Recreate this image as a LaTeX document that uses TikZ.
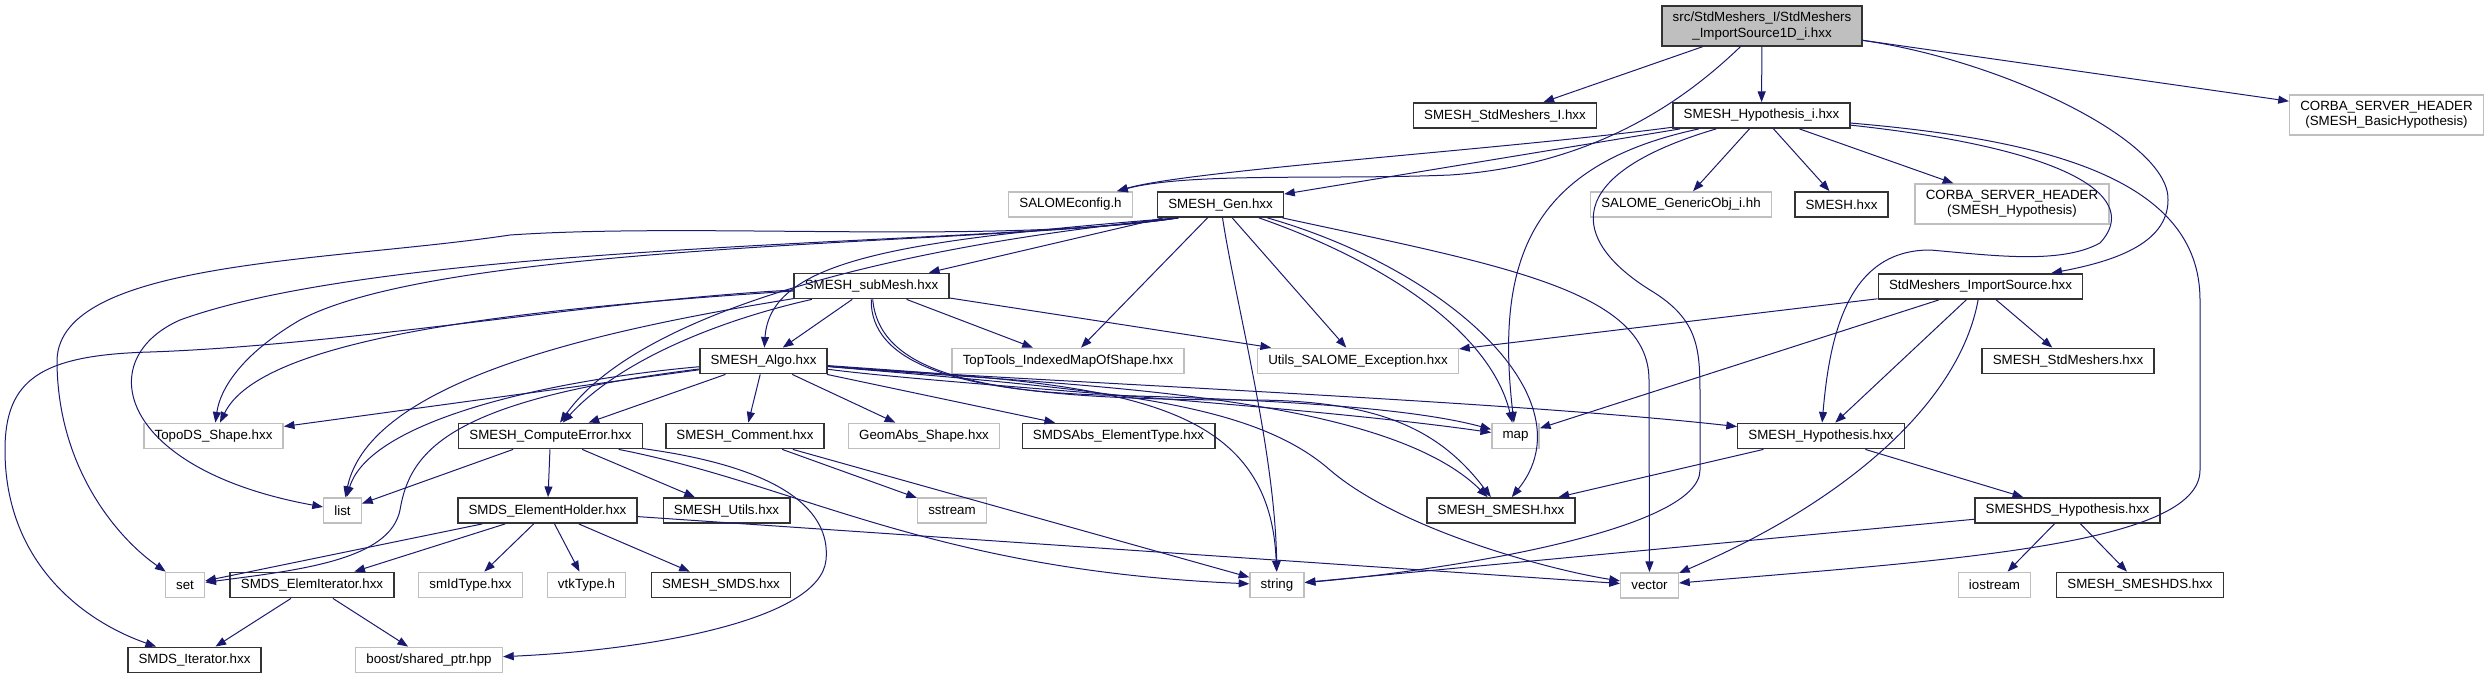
\documentclass[tikz,border=0pt]{standalone}
\usepackage{fontspec}
\setmainfont{Liberation Sans}
\usepackage{tikz}
\usetikzlibrary{arrows.meta}
\definecolor{grey75}{HTML}{BFBFBF}
\definecolor{edgeblue}{HTML}{191970}

\begin{document}
\begin{tikzpicture}[x=0.75pt,y=-0.75pt,
    hdr/.style={rectangle,draw=black!80,line width=1.1pt,inner xsep=8pt,inner ysep=0pt,
        minimum height=19pt,font=\fontsize{10}{11.5}\selectfont},
    syshdr/.style={hdr,draw=grey75},
    twoline/.style={align=center,minimum height=30pt},
    roothdr/.style={hdr,twoline,fill=grey75},
    dep/.style={draw=edgeblue,line width=0.75pt,-{Triangle[length=8pt,width=6pt]}}]
    \useasboundingbox (0,0) rectangle (2487,679);

    % Files, row by row
    \node[roothdr] (root) at (1762,26) {src/StdMeshers\_I/StdMeshers\\\_ImportSource1D\_i.hxx};

    \node[hdr] (stdi) at (1505,115.5) {SMESH\_StdMeshers\_I.hxx};
    \node[hdr] (hypi) at (1761.5,115.5) {SMESH\_Hypothesis\_i.hxx};
    \node[syshdr,twoline] (corbab) at (2386.5,115) {CORBA\_SERVER\_HEADER\\(SMESH\_BasicHypothesis)};

    \node[syshdr] (salcfg) at (1070.5,204.5) {SALOMEconfig.h};
    \node[hdr] (gen) at (1220.5,204.5) {SMESH\_Gen.hxx};
    \node[syshdr] (genobj) at (1681,204.5) {SALOME\_GenericObj\_i.hh};
    \node[hdr] (smeshh) at (1841.5,204.5) {SMESH.hxx};
    \node[syshdr,twoline] (corbah) at (2012,204) {CORBA\_SERVER\_HEADER\\(SMESH\_Hypothesis)};

    \node[hdr] (submesh) at (871.5,286) {SMESH\_subMesh.hxx};
    \node[hdr] (imps) at (1980.5,286.5) {StdMeshers\_ImportSource.hxx};

    \node[hdr] (algo) at (763.5,361) {SMESH\_Algo.hxx};
    \node[syshdr] (toptools) at (1068,361) {TopTools\_IndexedMapOfShape.hxx};
    \node[syshdr] (utils) at (1358,361) {Utils\_SALOME\_Exception.hxx};
    \node[hdr] (stdmesh) at (2068,361) {SMESH\_StdMeshers.hxx};

    \node[syshdr] (topods) at (213.5,436) {TopoDS\_Shape.hxx};
    \node[hdr] (compute) at (550.5,436) {SMESH\_ComputeError.hxx};
    \node[hdr] (comment) at (745,436) {SMESH\_Comment.hxx};
    \node[syshdr] (geomabs) at (924,436) {GeomAbs\_Shape.hxx};
    \node[hdr] (smdsabs) at (1118.5,436) {SMDSAbs\_ElementType.hxx};
    \node[syshdr] (map) at (1515.5,436) {map};
    \node[hdr] (smhyp) at (1821,436) {SMESH\_Hypothesis.hxx};

    \node[syshdr] (list) at (342.5,510.5) {list};
    \node[hdr] (holder) at (547.5,510.5) {SMDS\_ElementHolder.hxx};
    \node[hdr] (smutils) at (726.5,510.5) {SMESH\_Utils.hxx};
    \node[syshdr] (sstream) at (952,510.5) {sstream};
    \node[hdr] (smesh) at (1501,510.5) {SMESH\_SMESH.hxx};
    \node[hdr] (smhds) at (2067.5,510.5) {SMESHDS\_Hypothesis.hxx};

    \node[syshdr] (set) at (185,585) {set};
    \node[hdr] (elemit) at (312,585) {SMDS\_ElemIterator.hxx};
    \node[syshdr] (smid) at (470.5,585) {smIdType.hxx};
    \node[syshdr] (vtk) at (586.5,585) {vtkType.h};
    \node[hdr] (smds) at (721,585) {SMESH\_SMDS.hxx};
    \node[syshdr] (string) at (1277,585) {string};
    \node[syshdr] (vector) at (1649.5,585.5) {vector};
    \node[syshdr] (iostream) at (1994.5,585) {iostream};
    \node[hdr] (smeshds) at (2140,585) {SMESH\_SMESHDS.hxx};

    \node[hdr] (smdsiter) at (194.5,660) {SMDS\_Iterator.hxx};
    \node[syshdr] (boost) at (429,660) {boost/shared\_ptr.hpp};

    % Includes of the root file
    \draw[dep] (root) -- (stdi);
    \draw[dep] (root) -- (hypi);
    \draw[dep] (root) -- (corbab);
    \draw[dep] (root) .. controls (1690,95) and (1600,165) .. (1450,175) .. controls (1330,180) and (1190,172) .. ([xshift=-12pt]salcfg.north east);
    \draw[dep] (root) .. controls (2000,60) and (2170,140) .. (2168,200) .. controls (2168,245) and (2110,262) .. (imps);

    % SMESH_Hypothesis_i.hxx
    \draw[dep] (hypi) .. controls (1500,150) and (1190,170) .. ([xshift=-12pt]salcfg.north east);
    \draw[dep] (hypi) -- (gen);
    \draw[dep] (hypi) -- (genobj);
    \draw[dep] (hypi) -- (smeshh);
    \draw[dep] (hypi) -- (corbah);
    \draw[dep] (hypi) .. controls (2080,150) and (2140,200) .. (2100,243) .. controls (2060,265) and (1990,255) .. (1930,250) .. controls (1850,250) and (1830,330) .. (smhyp);
    \draw[dep] (hypi) .. controls (2050,140) and (2200,180) .. (2200,300) -- (2200,470) .. controls (2200,545) and (1950,560) .. (vector);
    \draw[dep] (hypi) .. controls (1530,165) and (1495,260) .. (map);
    \draw[dep] (hypi) .. controls (1560,175) and (1570,240) .. (1650,290) .. controls (1700,320) and (1700,350) .. (1700,400) -- (1700,470) .. controls (1700,530) and (1450,570) .. (string);

    % SMESH_Gen.hxx
    \draw[dep] (gen) -- (submesh);
    \draw[dep] (gen) -- (toptools);
    \draw[dep] (gen) -- (utils);
    \draw[dep] (gen) .. controls (1235,300) and (1275,450) .. (string);
    \draw[dep] (gen) .. controls (1380,260) and (1490,330) .. (map);
    \draw[dep] (gen) .. controls (1450,270) and (1590,400) .. (smesh);
    \draw[dep] (gen) .. controls (1500,265) and (1649,290) .. (1649,380) -- (vector);
    \draw[dep] ([xshift=16pt]gen.south west) .. controls (900,240) and (770,260) .. (algo);
    \draw[dep] ([xshift=16pt]gen.south west) .. controls (900,245) and (640,310) .. (compute);
    \draw[dep] ([xshift=16pt]gen.south west) .. controls (1000,245) and (450,240) .. (300,320) .. controls (240,355) and (220,390) .. (topods);
    \draw[dep] ([xshift=16pt]gen.south west) .. controls (1000,245) and (400,240) .. (180,320) .. controls (90,360) and (120,470) .. (list);
    \draw[dep] ([xshift=16pt]gen.south west) .. controls (1000,245) and (700,222) .. (510,235) .. controls (330,262) and (60,260) .. (57,360) .. controls (57,470) and (120,540) .. (set);

    % SMESH_subMesh.hxx
    \draw[dep] (submesh) -- (algo);
    \draw[dep] (submesh) -- (toptools);
    \draw[dep] (submesh) -- (utils);
    \draw[dep] (submesh) .. controls (720,320) and (620,360) .. (compute);
    \draw[dep] (submesh) .. controls (600,330) and (370,380) .. (list);
    \draw[dep] (submesh) .. controls (500,310) and (260,340) .. (topods);
    \draw[dep] (submesh) .. controls (600,300) and (350,345) .. (150,352) .. controls (40,355) and (5,380) .. (5,450) .. controls (5,560) and (80,620) .. (smdsiter);
    \draw[dep] (submesh) .. controls (870,360) and (950,390) .. (1100,395) .. controls (1300,400) and (1420,410) .. (map);
    \draw[dep] (submesh) .. controls (880,380) and (1000,400) .. (1250,400) .. controls (1380,400) and (1440,430) .. (smesh);

    % SMESH_Algo.hxx
    \draw[dep] (algo) -- (topods);
    \draw[dep] (algo) -- (compute);
    \draw[dep] (algo) -- (comment);
    \draw[dep] (algo) -- (geomabs);
    \draw[dep] (algo) -- (smdsabs);
    \draw[dep] (algo) .. controls (1000,380) and (1500,400) .. (smhyp);
    \draw[dep] (algo) .. controls (550,380) and (370,420) .. (list);
    \draw[dep] (algo) .. controls (450,400) and (410,450) .. (400,510) .. controls (390,560) and (300,570) .. (set);
    \draw[dep] (algo) .. controls (950,385) and (1300,405) .. (map);
    \draw[dep] (algo) .. controls (1050,385) and (1380,390) .. (smesh);
    \draw[dep] (algo) .. controls (1100,390) and (1250,400) .. (1330,470) .. controls (1400,530) and (1550,570) .. (vector);
    \draw[dep] (algo) .. controls (1100,385) and (1270,390) .. (string);

    % SMESH_ComputeError.hxx and SMESH_Comment.hxx
    \draw[dep] (compute) -- (list);
    \draw[dep] (compute) -- (holder);
    \draw[dep] (compute) -- (smutils);
    \draw[dep] (compute) .. controls (800,485) and (930,570) .. (string);
    \draw[dep] (compute) .. controls (800,470) and (830,520) .. (826,560) .. controls (820,620) and (650,650) .. (boost);
    \draw[dep] (comment) -- (sstream);
    \draw[dep] (comment) -- (string);

    % SMDS_ElementHolder.hxx and SMDS_ElemIterator.hxx
    \draw[dep] (holder) -- (set);
    \draw[dep] (holder) -- (elemit);
    \draw[dep] (holder) -- (smid);
    \draw[dep] (holder) -- (vtk);
    \draw[dep] (holder) -- (smds);
    \draw[dep] (holder) -- (vector);
    \draw[dep] (elemit) -- (smdsiter);
    \draw[dep] (elemit) -- (boost);

    % StdMeshers_ImportSource.hxx
    \draw[dep] (imps) -- (utils);
    \draw[dep] (imps) -- (map);
    \draw[dep] (imps) -- (smhyp);
    \draw[dep] (imps) -- (stdmesh);
    \draw[dep] (imps) .. controls (1960,400) and (1850,500) .. (vector);

    % hypothesis headers
    \draw[dep] (smhyp) -- (smesh);
    \draw[dep] (smhyp) -- (smhds);
    \draw[dep] (smhds) -- (string);
    \draw[dep] (smhds) -- (iostream);
    \draw[dep] (smhds) -- (smeshds);
\end{tikzpicture}
\end{document}
